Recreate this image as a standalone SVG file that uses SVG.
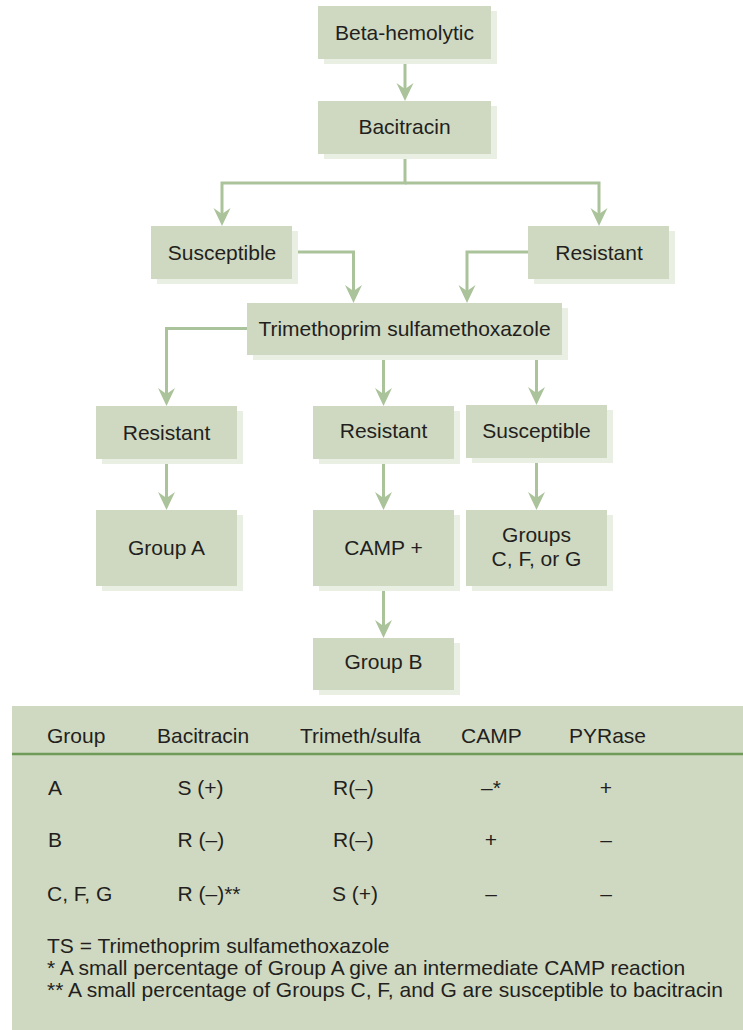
<svg xmlns="http://www.w3.org/2000/svg" width="743" height="1030" viewBox="0 0 743 1030">
<style>
.box{fill:#cfd9c1}
.sh{fill:#e9efe2}
.t{font-family:"Liberation Sans",Arial,sans-serif;font-size:21px;fill:#231f20;text-anchor:middle}
.tt{font-family:"Liberation Sans",Arial,sans-serif;font-size:21px;fill:#231f20}
.c{fill:none;stroke:#abc39a;stroke-width:3}
</style>
<defs>
<marker id="ah" viewBox="-19 -10 20 20" refX="-12" refY="0" markerWidth="20" markerHeight="20" orient="auto" markerUnits="userSpaceOnUse">
<path d="M0,0 L-18,-8.5 L-12,0 L-18,8.5 Z" fill="#abc39a"/>
</marker>
</defs>
<rect width="743" height="1030" fill="#ffffff"/>

<g id="connectors">
<path class="c" marker-end="url(#ah)" d="M405,59 V89"/>
<path class="c" marker-end="url(#ah)" d="M405,154 V183 H222 V214"/>
<path class="c" marker-end="url(#ah)" d="M405,183 H599 V214"/>
<path class="c" marker-end="url(#ah)" d="M292,252 H353.5 V291"/>
<path class="c" marker-end="url(#ah)" d="M528,252 H467 V291"/>
<path class="c" marker-end="url(#ah)" d="M247,328.5 H166.5 V394"/>
<path class="c" marker-end="url(#ah)" d="M383.5,355 V394"/>
<path class="c" marker-end="url(#ah)" d="M536.5,355 V393"/>
<path class="c" marker-end="url(#ah)" d="M166.5,459 V498"/>
<path class="c" marker-end="url(#ah)" d="M383.5,459 V498"/>
<path class="c" marker-end="url(#ah)" d="M536.5,458 V498"/>
<path class="c" marker-end="url(#ah)" d="M383.5,586 V626"/>
</g>

<g id="n-beta">
<rect class="sh" x="324" y="11" width="173" height="53"/>
<rect class="box" x="318" y="6" width="173" height="53"/>
<text class="t" x="404.5" y="40">Beta-hemolytic</text>
</g>
<g id="n-bacitracin">
<rect class="sh" x="324" y="106" width="173" height="53"/>
<rect class="box" x="318" y="101" width="173" height="53"/>
<text class="t" x="404.5" y="134">Bacitracin</text>
</g>
<g id="n-susceptible1">
<rect class="sh" x="157" y="231" width="141" height="53"/>
<rect class="box" x="151" y="226" width="141" height="53"/>
<text class="t" x="222" y="259.5">Susceptible</text>
</g>
<g id="n-resistant1">
<rect class="sh" x="534" y="231" width="141" height="53"/>
<rect class="box" x="528" y="226" width="141" height="53"/>
<text class="t" x="599" y="259.5">Resistant</text>
</g>
<g id="n-tms">
<rect class="sh" x="253" y="308" width="315" height="52"/>
<rect class="box" x="247" y="303" width="315" height="52"/>
<text class="t" x="404.5" y="335.5">Trimethoprim sulfamethoxazole</text>
</g>
<g id="n-resistant2">
<rect class="sh" x="102" y="411" width="141" height="53"/>
<rect class="box" x="96" y="406" width="141" height="53"/>
<text class="t" x="166.5" y="439.5">Resistant</text>
</g>
<g id="n-resistant3">
<rect class="sh" x="319" y="411" width="141" height="53"/>
<rect class="box" x="313" y="406" width="141" height="53"/>
<text class="t" x="383.5" y="437.5">Resistant</text>
</g>
<g id="n-susceptible2">
<rect class="sh" x="472" y="410" width="141" height="53"/>
<rect class="box" x="466" y="405" width="141" height="53"/>
<text class="t" x="536.5" y="437.5">Susceptible</text>
</g>
<g id="n-groupA">
<rect class="sh" x="102" y="515" width="141" height="76"/>
<rect class="box" x="96" y="510" width="141" height="76"/>
<text class="t" x="166.5" y="554.5">Group A</text>
</g>
<g id="n-camp">
<rect class="sh" x="319" y="515" width="141" height="76"/>
<rect class="box" x="313" y="510" width="141" height="76"/>
<text class="t" x="383.5" y="554.5">CAMP +</text>
</g>
<g id="n-groupsCFG">
<rect class="sh" x="472" y="515" width="141" height="76"/>
<rect class="box" x="466" y="510" width="141" height="76"/>
<text class="t" x="536.5" y="541.5">Groups</text>
<text class="t" x="536.5" y="565.5">C, F, or G</text>
</g>
<g id="n-groupB">
<rect class="sh" x="319" y="643" width="141" height="52"/>
<rect class="box" x="313" y="638" width="141" height="52"/>
<text class="t" x="383.5" y="668.5">Group B</text>
</g>

<g id="table">
<rect x="12" y="706" width="731" height="324" fill="#cfd9c1"/>
<line x1="12" y1="754" x2="743" y2="754" stroke="#6e9b58" stroke-width="2.5"/>
<text class="tt" x="47" y="743">Group</text>
<text class="tt" x="157" y="743">Bacitracin</text>
<text class="tt" x="300" y="743">Trimeth/sulfa</text>
<text class="tt" x="461" y="743">CAMP</text>
<text class="tt" x="569" y="743">PYRase</text>

<text class="tt" x="48" y="795">A</text>
<text class="tt" x="177.5" y="795">S (+)</text>
<text class="tt" x="333" y="795">R(–)</text>
<text class="t" x="491" y="795">–*</text>
<text class="t" x="606" y="795">+</text>

<text class="tt" x="48" y="847">B</text>
<text class="tt" x="177.5" y="847">R (–)</text>
<text class="tt" x="333" y="847">R(–)</text>
<text class="t" x="491" y="847">+</text>
<text class="t" x="606" y="847">–</text>

<text class="tt" x="47" y="901">C, F, G</text>
<text class="tt" x="177.5" y="901">R (–)**</text>
<text class="tt" x="332" y="901">S (+)</text>
<text class="t" x="491" y="901">–</text>
<text class="t" x="606" y="901">–</text>

<text class="tt" x="47" y="953">TS = Trimethoprim sulfamethoxazole</text>
<text class="tt" x="47" y="975">* A small percentage of Group A give an intermediate CAMP reaction</text>
<text class="tt" x="47" y="997">** A small percentage of Groups C, F, and G are susceptible to bacitracin</text>
</g>
</svg>
